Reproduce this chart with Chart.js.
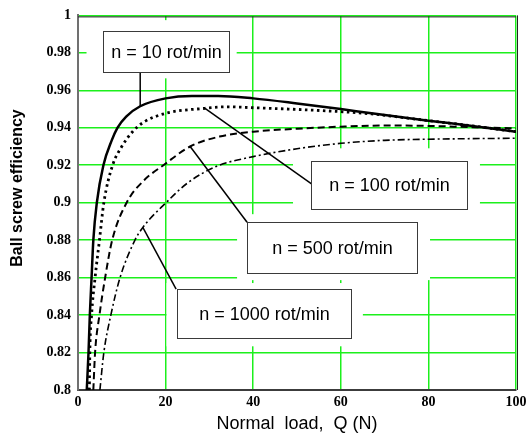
<!DOCTYPE html>
<html>
<head>
<meta charset="utf-8">
<script src="https://cdn.jsdelivr.net/npm/chart.js@4/dist/chart.umd.min.js"></script>
<style>
  html, body { margin: 0; padding: 0; background: #fff; }
</style>
</head>
<body>
<canvas id="effChart" width="531" height="435"></canvas>
<script>
// Normal load Q (N) vs ball screw efficiency
const loadN10 = [2.0, 2.4, 2.7, 3.1, 3.5, 4.3, 5.8, 7.7, 9.0, 11, 14.2, 20, 26, 32, 40, 50, 60, 67, 80, 90, 100];
const effN10 = [0.80, 0.82, 0.84, 0.86, 0.88, 0.90, 0.92, 0.9333, 0.94, 0.946, 0.9515, 0.9557, 0.957, 0.957, 0.9557, 0.953, 0.950, 0.9477, 0.9438, 0.941, 0.9379];

const loadN100 = [2.6, 2.7, 3.1, 3.9, 4.9, 5.9, 7.9, 9.9, 12.5, 15, 20, 29, 34, 40, 50, 60, 67, 80, 90, 100];
const effN100 = [0.80, 0.82, 0.84, 0.86, 0.88, 0.90, 0.92, 0.9296, 0.938, 0.943, 0.9477, 0.9504, 0.9512, 0.9507, 0.9498, 0.9486, 0.9474, 0.9438, 0.941, 0.9379];

const loadN500 = [3.5, 3.9, 4.9, 6.2, 7.8, 11.1, 15.1, 19.5, 25.6, 32.3, 40, 50, 60, 70, 80, 90, 100];
const effN500 = [0.80, 0.82, 0.84, 0.86, 0.88, 0.90, 0.912, 0.92, 0.930, 0.9353, 0.9379, 0.9395, 0.9406, 0.9412, 0.941, 0.9403, 0.9397];

const loadN1000 = [5.0, 5.9, 7.5, 9.6, 13.0, 14.8, 20.1, 25, 31.7, 40, 50, 60, 70, 80, 90, 100];
const effN1000 = [0.80, 0.82, 0.84, 0.86, 0.88, 0.8868, 0.90, 0.9105, 0.9195, 0.9246, 0.9288, 0.9317, 0.9333, 0.9339, 0.9342, 0.9344];

const seriesLabels = ['n = 10 rot/min', 'n = 100 rot/min', 'n = 500 rot/min', 'n = 1000 rot/min'];
const xTicks = [0, 20, 40, 60, 80, 100];
const yTicks = [0.8, 0.82, 0.84, 0.86, 0.88, 0.9, 0.92, 0.94, 0.96, 0.98, 1];

// Callout boxes in data units: box = [x0, x1, yTop, yBottom], leader from -> to
// pad = white clearing round the box in px [left, right, top, bottom]
const callouts = [
    { text: seriesLabels[0], box: [5.6, 34.4, 0.9916, 0.9696], from: [14.2, 0.9696], to: [14.2, 0.9515], pad: [16, 8, 11, 6] },
    { text: seriesLabels[1], box: [53.2, 88.8, 0.9221, 0.8965], from: [53.4, 0.9099], to: [29.0, 0.9504], pad: [18, 13, 13, 8] },
    { text: seriesLabels[2], box: [38.6, 77.4, 0.8896, 0.8624], from: [38.6, 0.8896], to: [25.6, 0.930], pad: [10, 13, 8, 7] },
    { text: seriesLabels[3], box: [22.5, 62.3, 0.8539, 0.8276], from: [22.4, 0.8539], to: [14.8, 0.8868], pad: [10, 12, 6, 8] }
];

function toPoints(xs, ys) {
    return xs.map((v, i) => ({ x: v, y: ys[i] }));
}

const gridGreen = '#1cf01c';
const tickFont = { family: '"Liberation Serif", "Times New Roman", serif', size: 14, weight: 'bold' };

const calloutPlugin = {
    id: 'callouts',
    beforeDatasetsDraw(chart) {
        const { ctx, scales: { x, y } } = chart;
        ctx.save();
        ctx.fillStyle = '#ffffff';
        callouts.forEach(c => {
            const l = x.getPixelForValue(c.box[0]) - c.pad[0];
            const r = x.getPixelForValue(c.box[1]) + c.pad[1];
            const t = y.getPixelForValue(c.box[2]) - c.pad[2];
            const b = y.getPixelForValue(c.box[3]) + c.pad[3];
            ctx.fillRect(l, t, r - l, b - t);
        });
        ctx.restore();
    },
    afterDatasetsDraw(chart) {
        const { ctx, chartArea, scales: { x, y } } = chart;
        ctx.save();

        // frame lines next to the green top / right grid lines
        ctx.strokeStyle = '#222';
        ctx.lineWidth = 1;
        ctx.beginPath();
        ctx.moveTo(chartArea.left, chartArea.top + 1.5);
        ctx.lineTo(chartArea.right, chartArea.top + 1.5);
        ctx.moveTo(chartArea.right + 1.5, chartArea.top);
        ctx.lineTo(chartArea.right + 1.5, chartArea.bottom);
        ctx.stroke();

        callouts.forEach(c => {
            // leader line
            ctx.strokeStyle = '#000';
            ctx.lineWidth = 1.5;
            ctx.beginPath();
            ctx.moveTo(x.getPixelForValue(c.from[0]), y.getPixelForValue(c.from[1]));
            ctx.lineTo(x.getPixelForValue(c.to[0]), y.getPixelForValue(c.to[1]));
            ctx.stroke();

            // box
            const l = Math.round(x.getPixelForValue(c.box[0])) + 0.5;
            const r = Math.round(x.getPixelForValue(c.box[1])) + 0.5;
            const t = Math.round(y.getPixelForValue(c.box[2])) + 0.5;
            const b = Math.round(y.getPixelForValue(c.box[3])) + 0.5;
            ctx.fillStyle = '#fff';
            ctx.fillRect(l, t, r - l, b - t);
            ctx.strokeStyle = '#3a3a3a';
            ctx.lineWidth = 1;
            ctx.strokeRect(l, t, r - l, b - t);

            ctx.fillStyle = '#000';
            ctx.font = '18px "Liberation Sans", Arial, sans-serif';
            ctx.textAlign = 'center';
            ctx.textBaseline = 'middle';
            ctx.fillText(c.text, (l + r) / 2, (t + b) / 2 + 1);
        });

        // y axis title
        ctx.translate(18, 188);
        ctx.rotate(-Math.PI / 2);
        ctx.fillStyle = '#000';
        ctx.font = 'bold 16px "Liberation Sans", Arial, sans-serif';
        ctx.textAlign = 'center';
        ctx.textBaseline = 'middle';
        ctx.fillText('Ball screw efficiency', 0, 0);
        ctx.restore();
    }
};

const lineBase = {
    pointRadius: 0,
    fill: false,
    borderColor: '#000',
    cubicInterpolationMode: 'monotone'
};

new Chart(document.getElementById('effChart'), {
    type: 'line',
    data: {
        datasets: [
            { ...lineBase, label: seriesLabels[0], data: toPoints(loadN10, effN10), borderWidth: 2.5 },
            { ...lineBase, label: seriesLabels[1], data: toPoints(loadN100, effN100), borderWidth: 2.8, borderDash: [2.5, 3.5] },
            { ...lineBase, label: seriesLabels[2], data: toPoints(loadN500, effN500), borderWidth: 2, borderDash: [7, 4] },
            { ...lineBase, label: seriesLabels[3], data: toPoints(loadN1000, effN1000), borderWidth: 1.6, borderDash: [7, 3, 2, 3] }
        ]
    },
    options: {
        responsive: false,
        animation: false,
        layout: {
            padding: { left: 0, right: 15, top: 15, bottom: 0 }
        },
        plugins: {
            legend: { display: false },
            tooltip: { enabled: false }
        },
        scales: {
            x: {
                type: 'linear',
                min: 0,
                max: 100,
                afterBuildTicks: s => { s.ticks = xTicks.map(v => ({ value: v })); },
                afterFit: s => { s.height = 45; },
                grid: { color: gridGreen, lineWidth: 1.5, drawTicks: false },
                border: { color: '#3c3c3c', width: 2 },
                ticks: { color: '#000', font: tickFont, padding: 4 },
                title: {
                    display: true,
                    text: 'Normal  load,  Q (N)',
                    color: '#000',
                    font: { family: '"Liberation Sans", Arial, sans-serif', size: 18 },
                    padding: { top: 0, bottom: 0 }
                }
            },
            y: {
                min: 0.8,
                max: 1,
                afterBuildTicks: s => { s.ticks = yTicks.map(v => ({ value: v })); },
                afterFit: s => { s.width = 78; },
                grid: { color: gridGreen, lineWidth: 1.5, drawTicks: false },
                border: { color: '#707070', width: 2 },
                ticks: {
                    color: '#000',
                    font: tickFont,
                    padding: 7,
                    callback: v => String(+v.toFixed(2))
                }
            }
        }
    },
    plugins: [calloutPlugin]
});
</script>
</body>
</html>
